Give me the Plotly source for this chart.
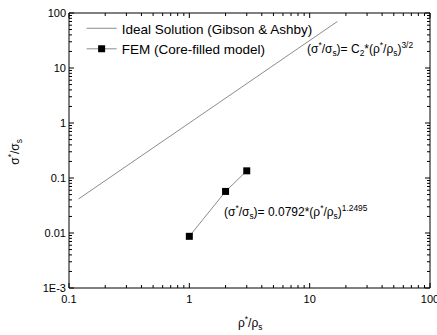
import math
import plotly.graph_objects as go

# Data
ideal_x = [0.12, 17.0]
ideal_y = [0.0416, 70.1]
fem_x = [1.0, 2.0, 3.0]
fem_y = [0.0087, 0.057, 0.135]

x_ticks = [0.1, 1, 10, 100]
x_ticktext = ["0.1", "1", "10", "100"]
y_ticks = [0.001, 0.01, 0.1, 1, 10, 100]
y_ticktext = ["1E-3", "0.01", "0.1", "1", "10", "100"]

FONT = "Liberation Sans, Arial, sans-serif"
W, H = 437, 335
ML, MR, MT, MB = 69, 7, 13, 47
PW, PH = W - ML - MR, H - MT - MB
XR, YR = (-1, 2), (-3, 2)

fig = go.Figure()
fig.add_trace(go.Scatter(
    x=ideal_x, y=ideal_y, mode="lines",
    line=dict(color="#8c8c8c", width=1),
    name="Ideal Solution (Gibson & Ashby)"))
fig.add_trace(go.Scatter(
    x=fem_x, y=fem_y, mode="lines+markers",
    line=dict(color="#8c8c8c", width=1),
    marker=dict(symbol="square", size=7, color="black"),
    name="FEM (Core-filled model)"))

axis_common = dict(
    type="log", showline=False, ticks="", showgrid=False, zeroline=False,
    automargin=False, ticklabeloverflow="allow",
    tickfont=dict(family=FONT, size=11, color="black"),
)
fig.update_xaxes(range=list(XR), tickvals=x_ticks, ticktext=x_ticktext, ticklabelstandoff=3,
                 **axis_common)
fig.update_yaxes(range=list(YR), tickvals=y_ticks, ticktext=y_ticktext, ticklabelstandoff=2,
                 **axis_common)

# frame
shapes = [dict(type="rect", xref="paper", yref="paper", x0=0, y0=0, x1=1, y1=1,
               line=dict(color="black", width=1), layer="above")]

def tick_positions(lo, hi):
    major, minor = [], []
    for e in range(lo, hi + 1):
        major.append(e)
        if e < hi:
            for k in range(2, 10):
                minor.append(e + math.log10(k))
    return major, minor

def tick_rect(x0, x1, y0, y1):
    return dict(type="rect", xref="paper", yref="paper",
                x0=x0, x1=x1, y0=y0, y1=y1,
                fillcolor="black", line=dict(width=0), layer="above")

hx, hy = 0.5 / PW, 0.5 / PH
xmaj, xmin = tick_positions(*XR)
for vals, ln in ((xmaj, 5), (xmin, 3)):
    for v in vals:
        f = (v - XR[0]) / (XR[1] - XR[0])
        shapes.append(tick_rect(f - hx, f + hx, 0, ln / PH))
        shapes.append(tick_rect(f - hx, f + hx, 1 - ln / PH, 1))
ymaj, ymin = tick_positions(*YR)
for vals, ln in ((ymaj, 5), (ymin, 3)):
    for v in vals:
        f = (v - YR[0]) / (YR[1] - YR[0])
        shapes.append(tick_rect(0, ln / PW, f - hy, f + hy))
        shapes.append(tick_rect(1 - ln / PW, 1, f - hy, f + hy))

fig.add_annotation(x=0.5, y=-0.128, xref="paper", yref="paper", showarrow=False,
                   xanchor="center", yanchor="middle",
                   text="ρ<sup>*</sup>/ρ<sub>s</sub>", font=dict(family=FONT, size=12, color="black"))
fig.add_annotation(x=-0.15, y=0.495, xref="paper", yref="paper", showarrow=False,
                   xanchor="center", yanchor="middle", textangle=-90,
                   text="σ<sup>*</sup>/σ<sub>s</sub>", font=dict(family=FONT, size=12, color="black"))

fig.add_annotation(x=0.655, y=0.87, xref="paper", yref="paper", showarrow=False,
                   xanchor="left", yanchor="middle",
                   text="(σ<sup>*</sup>/σ<sub>s</sub>)= C<sub>2</sub>*(ρ<sup>*</sup>/ρ<sub>s</sub>)<sup>3/2</sup>",
                   font=dict(family=FONT, size=12, color="black"))
fig.add_annotation(x=0.425, y=0.275, xref="paper", yref="paper", showarrow=False,
                   xanchor="left", yanchor="middle",
                   text="(σ<sup>*</sup>/σ<sub>s</sub>)= 0.0792*(ρ<sup>*</sup>/ρ<sub>s</sub>)<sup>1.2495</sup>",
                   font=dict(family=FONT, size=12, color="black"))

fig.update_layout(
    width=W, height=H,
    margin=dict(l=ML, r=MR, t=MT, b=MB),
    paper_bgcolor="white", plot_bgcolor="white",
    font=dict(family=FONT, size=12, color="black"),
    shapes=shapes,
    showlegend=True,
    legend=dict(x=0.035, y=1.0, xanchor="left", yanchor="top",
                bgcolor="rgba(0,0,0,0)", borderwidth=0,
                font=dict(family=FONT, size=13.5, color="black"),
                tracegroupgap=2),
)

fig.write_html("out.html", config={"displayModeBar": False},
               post_script="document.body.style.margin='0';")
